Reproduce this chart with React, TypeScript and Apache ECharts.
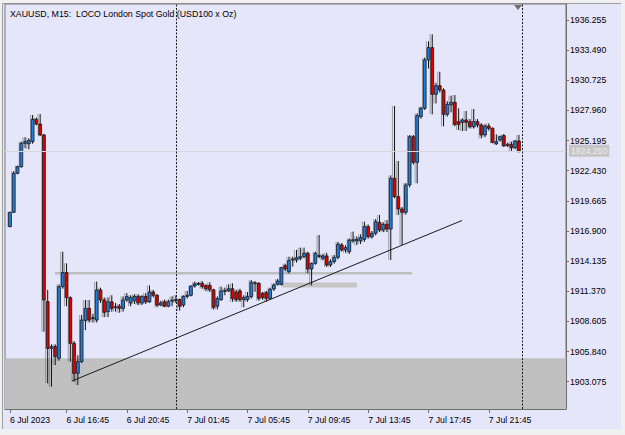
import React, { useEffect, useRef } from "react";
import * as echarts from "echarts";

// M15 bars, 6 Jul 2023 13:00 .. 7 Jul 2023 23:45 (index = bar number)
const open = [
  1917.30, 1918.61, 1922.19, 1922.80, 1924.94, 1924.90, 1925.10, 1927.14, 1926.71, 1925.71,
  1910.42, 1906.13, 1906.30, 1905.22, 1911.79, 1913.08, 1910.78, 1906.59, 1903.84, 1904.91,
  1908.70, 1909.80, 1908.90, 1908.73, 1911.49, 1910.57, 1909.50, 1910.40, 1909.90, 1910.00,
  1909.80, 1910.57, 1910.30, 1910.50, 1910.90, 1910.30, 1910.90, 1910.40, 1911.30, 1911.00,
  1910.10, 1910.40, 1910.00, 1910.50, 1910.50, 1910.60, 1910.10, 1910.90, 1911.00, 1911.85,
  1912.00, 1912.10, 1911.90, 1911.90, 1911.50, 1910.00, 1910.60, 1911.40, 1911.40, 1911.60,
  1911.30, 1911.40, 1910.60, 1910.60, 1910.87, 1912.10, 1912.10, 1911.18, 1911.24, 1910.72,
  1911.58, 1912.00, 1912.00, 1913.72, 1913.17, 1914.30, 1914.24, 1914.39, 1914.54, 1914.85,
  1913.41, 1913.93, 1914.60, 1914.39, 1914.61, 1913.78, 1914.09, 1914.48, 1915.62, 1915.16,
  1915.00, 1916.07, 1915.98, 1916.00, 1916.13, 1917.30, 1916.38, 1916.69, 1917.69, 1916.99,
  1917.51, 1917.08, 1921.73, 1920.05, 1918.92, 1918.61, 1921.12, 1925.55, 1923.20, 1927.39,
  1928.15, 1932.59, 1933.72, 1929.44, 1930.23, 1929.83, 1927.60, 1928.46, 1928.70, 1926.93,
  1926.87, 1927.08, 1926.93, 1926.47, 1926.93, 1926.62, 1925.71, 1926.53, 1926.32, 1924.90,
  1925.25, 1925.65, 1924.73, 1924.85, 1924.54, 1925.16,
];
const high = [
  1918.67, 1922.40, 1922.89, 1925.09, 1925.50, 1925.40, 1927.54, 1927.30, 1927.63, 1925.80,
  1911.49, 1906.50, 1906.50, 1912.00, 1915.00, 1913.93, 1910.90, 1906.80, 1905.50, 1909.20,
  1910.57, 1910.57, 1909.30, 1912.25, 1911.70, 1910.80, 1910.80, 1911.00, 1910.30, 1910.20,
  1910.90, 1911.20, 1911.00, 1911.10, 1911.10, 1911.00, 1911.20, 1911.90, 1911.50, 1911.10,
  1910.50, 1910.60, 1910.60, 1910.90, 1911.00, 1910.70, 1911.00, 1911.40, 1911.90, 1912.25,
  1912.20, 1912.30, 1912.00, 1912.20, 1911.60, 1910.90, 1911.80, 1911.70, 1912.00, 1912.10,
  1911.50, 1911.60, 1911.00, 1911.30, 1912.40, 1912.30, 1912.20, 1911.30, 1911.40, 1911.70,
  1912.10, 1912.50, 1913.60, 1913.90, 1914.54, 1914.54, 1915.16, 1915.37, 1915.37, 1915.00,
  1914.00, 1915.00, 1916.53, 1914.80, 1914.90, 1914.30, 1914.70, 1915.90, 1915.80, 1915.60,
  1916.20, 1916.84, 1916.40, 1916.60, 1917.75, 1917.50, 1916.90, 1918.00, 1918.37, 1917.70,
  1917.90, 1922.00, 1928.37, 1923.32, 1919.10, 1921.30, 1925.70, 1925.70, 1927.69, 1928.30,
  1932.80, 1934.30, 1934.94, 1930.50, 1931.51, 1930.00, 1928.80, 1929.31, 1929.37, 1928.15,
  1927.23, 1927.91, 1927.17, 1928.09, 1927.17, 1926.80, 1926.70, 1926.78, 1926.40, 1925.77,
  1925.65, 1925.80, 1925.00, 1925.10, 1925.25, 1925.71,
];
const low = [
  1917.24, 1918.55, 1922.10, 1922.70, 1924.50, 1924.40, 1924.90, 1926.60, 1925.60, 1907.66,
  1902.92, 1902.62, 1904.60, 1905.00, 1911.60, 1910.00, 1904.91, 1903.08, 1902.77, 1904.80,
  1907.80, 1908.50, 1908.50, 1908.50, 1910.30, 1909.00, 1909.00, 1909.50, 1909.50, 1909.40,
  1909.50, 1910.40, 1910.00, 1910.20, 1910.10, 1910.10, 1910.20, 1910.30, 1910.80, 1909.90,
  1910.00, 1909.90, 1909.90, 1910.00, 1910.30, 1909.60, 1909.90, 1910.70, 1910.90, 1911.70,
  1911.90, 1911.60, 1911.40, 1911.30, 1909.70, 1909.70, 1910.50, 1911.00, 1911.30, 1910.40,
  1910.40, 1910.40, 1909.90, 1910.40, 1910.70, 1911.33, 1910.50, 1910.60, 1910.42, 1910.60,
  1911.40, 1911.90, 1911.90, 1913.20, 1913.00, 1913.63, 1914.00, 1914.20, 1914.40, 1913.02,
  1911.90, 1913.80, 1914.40, 1914.20, 1913.60, 1913.60, 1913.90, 1914.30, 1915.00, 1914.90,
  1914.80, 1915.80, 1915.60, 1915.70, 1915.90, 1916.20, 1916.20, 1916.50, 1916.80, 1916.80,
  1916.80, 1914.24, 1919.90, 1918.37, 1915.61, 1918.40, 1920.90, 1923.00, 1921.27, 1927.20,
  1928.00, 1931.80, 1927.60, 1928.60, 1929.60, 1926.50, 1927.40, 1927.78, 1926.50, 1926.17,
  1926.07, 1926.07, 1926.30, 1926.30, 1926.40, 1925.40, 1925.50, 1926.10, 1924.94, 1924.79,
  1925.10, 1924.60, 1924.60, 1924.24, 1924.40, 1924.10,
];
const close = [
  1918.61, 1922.19, 1922.80, 1924.94, 1925.10, 1925.20, 1927.14, 1926.71, 1925.71, 1910.57,
  1906.13, 1906.30, 1905.37, 1911.79, 1913.08, 1910.78, 1906.59, 1903.84, 1904.91, 1908.73,
  1909.80, 1908.73, 1908.95, 1911.49, 1910.57, 1909.44, 1910.40, 1909.80, 1909.95, 1909.80,
  1910.57, 1910.88, 1910.80, 1910.90, 1910.30, 1910.90, 1910.40, 1911.30, 1911.00, 1910.10,
  1910.30, 1910.00, 1910.40, 1910.55, 1910.60, 1910.00, 1910.90, 1911.00, 1911.85, 1912.05,
  1912.10, 1911.80, 1911.60, 1911.50, 1909.90, 1910.70, 1911.40, 1911.45, 1911.60, 1910.70,
  1910.60, 1910.60, 1910.80, 1910.90, 1912.19, 1912.15, 1910.72, 1910.78, 1910.72, 1911.55,
  1911.94, 1912.31, 1913.54, 1913.41, 1914.18, 1914.33, 1914.45, 1914.54, 1914.85, 1913.41,
  1913.93, 1914.85, 1914.65, 1914.61, 1913.78, 1914.09, 1914.48, 1915.68, 1915.16, 1915.37,
  1916.07, 1916.10, 1916.13, 1916.30, 1917.30, 1916.38, 1916.69, 1917.75, 1916.99, 1917.51,
  1917.08, 1921.73, 1920.05, 1918.92, 1918.61, 1921.12, 1925.55, 1923.20, 1927.48, 1928.15,
  1932.59, 1933.72, 1929.44, 1930.23, 1929.83, 1927.60, 1928.52, 1928.70, 1926.68, 1926.68,
  1927.08, 1926.87, 1926.47, 1926.93, 1926.62, 1925.71, 1926.53, 1926.32, 1925.03, 1925.10,
  1925.55, 1924.73, 1924.85, 1924.54, 1925.16, 1924.25,
];

// time axis
const xTickIndex = [0, 15, 31, 47, 63, 79, 95, 111, 127];
const xTickLabels = [
  "6 Jul 2023", "6 Jul 16:45", "6 Jul 20:45", "7 Jul 01:45", "7 Jul 05:45",
  "7 Jul 09:45", "7 Jul 13:45", "7 Jul 17:45", "7 Jul 21:45",
];
const daySeparators = [44, 136];

// price axis
const yTickValues = [
  1936.255, 1933.49, 1930.725, 1927.96, 1925.195, 1922.43, 1919.665,
  1916.9, 1914.135, 1911.37, 1908.605, 1905.84, 1903.075,
];

// chart objects
const trendLine = [[16.45, 1903.14], [119.9, 1917.86]];
const levelLineA = [[11.94, 1913.02], [106.6, 1913.02]];
const levelLineB = [[72.1, 1911.94], [92.0, 1911.94]];
const zoneTop = 1905.23;

const TITLE = "XAUUSD, M15:  LOCO London Spot Gold (USD100 x Oz)";
const FONT = "'Liberation Sans', Arial, sans-serif";

const Y_MIN = 1900.568;
const Y_MAX = 1937.723;
const X_MIN = -1.326;
const X_MAX = 147.48;

export default function App() {
  const ref = useRef<HTMLDivElement>(null);
  useEffect(() => {
    if (!ref.current) return;
    const chart = echarts.init(ref.current, undefined, { renderer: "svg" });
    const bid = close[close.length - 1];
    const bars = open.map((o, i) => [i, o, high[i], low[i], close[i]]);

    const renderItem = (params: any, api: any) => {
      const i = api.value(0);
      const o = api.value(1);
      const h = api.value(2);
      const l = api.value(3);
      const c = api.value(4);
      const pO = api.coord([i, o]);
      const x = pO[0];
      const yO = pO[1];
      const yH = api.coord([i, h])[1];
      const yL = api.coord([i, l])[1];
      const yC = api.coord([i, c])[1];
      const up = c >= o;
      const top = Math.min(yO, yC);
      const bh = Math.max(Math.abs(yO - yC), 1);
      return {
        type: "group",
        children: [
          {
            type: "rect",
            shape: { x: x - 2.6, y: yH, width: 1.1, height: Math.max(yL - yH, 1) },
            style: { fill: "rgba(105,105,105,0.55)" },
          },
          {
            type: "line",
            shape: { x1: x, y1: yH, x2: x, y2: yL },
            style: { stroke: "#111", lineWidth: 1 },
          },
          {
            type: "rect",
            shape: { x: x - 1.4, y: top, width: 2.8, height: bh },
            style: { fill: up ? "#1E80E6" : "#E00000", stroke: "#111", lineWidth: 0.8 },
          },
        ],
      };
    };

    chart.setOption({
      animation: false,
      backgroundColor: "#F0F0F0",
      textStyle: { fontFamily: FONT },
      graphic: [
        {
          type: "rect",
          z: -10,
          silent: true,
          shape: { x: 2, y: 3, width: 619, height: 426 },
          style: { fill: "#E6E6FA" },
        },
        {
          type: "line",
          z: -9,
          silent: true,
          shape: { x1: 2, y1: 3.5, x2: 621, y2: 3.5 },
          style: { stroke: "#A0A0A0", lineWidth: 1 },
        },
        {
          type: "line",
          z: -9,
          silent: true,
          shape: { x1: 2.5, y1: 3, x2: 2.5, y2: 429 },
          style: { stroke: "#A0A0A0", lineWidth: 1 },
        },
        {
          type: "text",
          z: 20,
          left: 10,
          top: 9,
          style: { text: TITLE, font: `8.8px ${FONT}`, fill: "#000" },
        },
        {
          type: "polygon",
          z: 20,
          shape: { points: [[514, 5], [522, 5], [518, 10]] },
          style: { fill: "#707070" },
        },
      ],
      grid: {
        left: 5,
        top: 4,
        width: 561,
        height: 405,
        show: true,
        backgroundColor: "#E6E6FA",
        borderColor: "#7A7A7A",
        borderWidth: 1,
      },
      xAxis: {
        type: "value",
        min: X_MIN,
        max: X_MAX,
        splitLine: { show: false },
        axisLine: { show: true, onZero: false, lineStyle: { color: "#6E6E6E" } },
        axisTick: {
          show: true,
          length: 4,
          customValues: xTickIndex,
          lineStyle: { color: "#6E6E6E" },
        },
        axisLabel: {
          customValues: xTickIndex,
          align: "left",
          margin: 6,
          fontSize: 8.7,
          fontFamily: FONT,
          color: "#000",
          formatter: (v: number) => {
            const k = xTickIndex.indexOf(Math.round(v));
            return k >= 0 ? xTickLabels[k] : "";
          },
        },
      },
      yAxis: {
        type: "value",
        position: "right",
        min: Y_MIN,
        max: Y_MAX,
        scale: true,
        splitLine: { show: false },
        axisLine: { show: true, onZero: false, lineStyle: { color: "#6E6E6E" } },
        axisTick: {
          show: true,
          length: 3,
          customValues: yTickValues,
          lineStyle: { color: "#6E6E6E" },
        },
        axisLabel: {
          customValues: yTickValues,
          margin: 4,
          fontSize: 8.7,
          fontFamily: FONT,
          color: "#000",
          formatter: (v: number) => v.toFixed(3),
        },
      },
      series: [
        {
          name: "zone",
          type: "line",
          data: [],
          z: 1,
          silent: true,
          markArea: {
            silent: true,
            itemStyle: { color: "#C0C0C0" },
            data: [[{ yAxis: zoneTop }, { yAxis: Y_MIN }]],
          },
          markLine: {
            silent: true,
            symbol: ["none", "none"],
            lineStyle: { color: "#D6D6DC", width: 1, type: "solid" },
            label: {
              show: true,
              position: "end",
              distance: 3,
              formatter: bid.toFixed(3),
              backgroundColor: "#C6C6C6",
              color: "#EEEEEE",
              padding: [2, 2, 1, 2],
              fontSize: 8.7,
              fontFamily: FONT,
            },
            data: [{ yAxis: bid }],
          },
        },
        {
          name: "levelA",
          type: "line",
          data: levelLineA,
          z: 2,
          silent: true,
          symbol: "none",
          lineStyle: { color: "#BEBEBE", width: 2.5 },
        },
        {
          name: "levelB",
          type: "line",
          data: levelLineB,
          z: 2,
          silent: true,
          symbol: "none",
          lineStyle: { color: "#C6C6C6", width: 5 },
        },
        {
          name: "bars",
          type: "custom",
          z: 3,
          renderItem,
          encode: { x: 0, y: [1, 2, 3, 4] },
          data: bars,
        },
        {
          name: "trend",
          type: "line",
          data: trendLine,
          z: 4,
          silent: true,
          symbol: "none",
          lineStyle: { color: "#1A1A1A", width: 1 },
        },
        {
          name: "separators",
          type: "line",
          data: [],
          z: 4,
          silent: true,
          markLine: {
            silent: true,
            symbol: ["none", "none"],
            label: { show: false },
            lineStyle: { color: "#1A1A1A", width: 1, type: [2, 1.5] },
            data: daySeparators.map((d) => ({ xAxis: d })),
          },
        },
      ],
    });
    return () => chart.dispose();
  }, []);
  return (
    <div
      ref={ref}
      style={{ position: "fixed", left: 0, top: 0, width: 625, height: 435 }}
    />
  );
}
